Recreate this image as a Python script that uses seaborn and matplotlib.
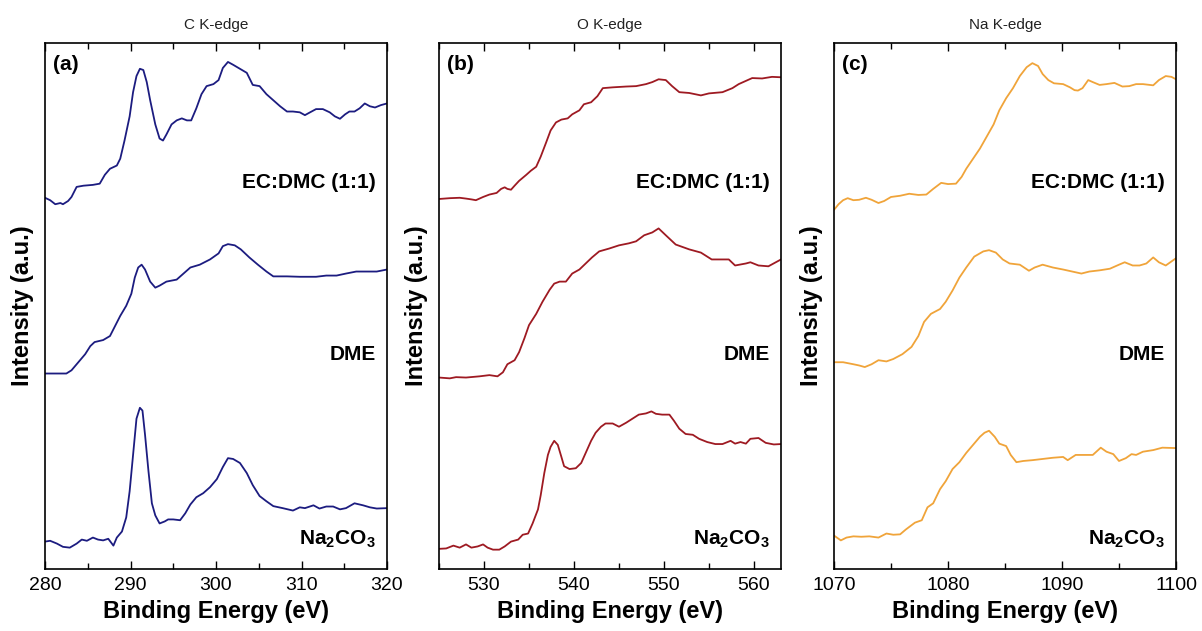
import numpy as np
import pandas as pd
import matplotlib
matplotlib.use("Agg")
import matplotlib.pyplot as plt
from matplotlib.ticker import MultipleLocator
import seaborn as sns

# ---------------- C K-edge (stacked intensities, a.u.) ----------------
c_ec_e = [280, 280.6, 281.2, 281.8, 282.1, 282.7, 283.1, 283.7, 284.5, 285.6, 286.4, 287.0, 287.6,
          288.4, 288.8, 289.3, 289.9, 290.3, 290.7, 291.1, 291.5, 291.9, 292.3, 292.9, 293.4, 293.8,
          294.2, 294.8, 295.4, 296.0, 296.6, 297.1, 297.7, 298.3, 298.9, 299.7, 300.3, 300.8, 301.4,
          302.0, 302.8, 303.6, 304.3, 305.1, 305.9, 306.7, 307.5, 308.3, 309.0, 309.8, 310.4, 311.0,
          311.7, 312.5, 313.3, 313.9, 314.5, 315.1, 315.6, 316.2, 316.8, 317.4, 318.0, 318.6, 319.3, 320]
c_ec_i = [92.1, 91.5, 90.5, 90.8, 90.5, 91.3, 92.3, 94.8, 95.1, 95.3, 95.6, 97.8, 99.3,
          100.1, 101.8, 106.3, 112.3, 118.3, 122.3, 124.1, 123.8, 120.8, 116.3, 110.3, 106.8, 106.3,
          107.8, 110.3, 111.3, 111.8, 111.3, 111.3, 114.3, 117.8, 119.8, 120.3, 121.3, 124.3, 125.8,
          125.1, 124.1, 123.1, 120.1, 119.8, 117.8, 116.3, 114.8, 113.5, 113.5, 113.3, 112.6, 113.3,
          114.1, 114.1, 113.3, 112.3, 111.7, 112.8, 113.5, 113.5, 114.3, 115.5, 114.8, 114.5, 115.1, 115.5]

c_dme_e = [280, 281, 282.5, 283.1, 284.1, 284.7, 285.3, 285.8, 286.8, 287.6, 288.2, 288.8, 289.5,
           290.1, 290.5, 290.9, 291.3, 291.7, 292.3, 292.9, 293.4, 294.2, 295.4, 296.2, 297.0, 298.1,
           299.3, 300.3, 300.8, 301.4, 302.2, 302.9, 303.9, 304.9, 305.9, 306.7, 308.3, 309.8, 311.7,
           312.9, 314.1, 315.2, 316.4, 317.6, 318.8, 320]
c_dme_i = [48.5, 48.5, 48.5, 49.3, 51.8, 53.3, 55.3, 56.3, 56.8, 57.8, 60.3, 62.8, 65.3,
           68.3, 72.3, 74.8, 75.5, 74.3, 71.3, 69.8, 70.3, 71.3, 71.8, 73.3, 74.8, 75.5,
           76.8, 78.3, 80.1, 80.6, 80.3, 79.3, 77.3, 75.5, 73.8, 72.6, 72.6, 72.5, 72.5,
           72.8, 72.8, 73.3, 73.8, 73.8, 73.8, 74.3]

c_na_e = [280, 280.6, 281.4, 282.1, 282.9, 283.7, 284.3, 284.9, 285.6, 286.2, 286.8, 287.4, 288.0,
          288.4, 289.0, 289.5, 289.9, 290.3, 290.7, 291.1, 291.4, 291.7, 292.1, 292.5, 292.9, 293.4,
          294.0, 294.4, 295.0, 295.8, 296.4, 297.0, 297.7, 298.5, 299.3, 300.1, 300.8, 301.4, 302.0,
          302.8, 303.6, 304.3, 305.1, 305.9, 306.7, 307.8, 309.0, 309.8, 310.4, 311.4, 312.1, 312.9,
          313.7, 314.5, 315.2, 316.2, 317.2, 318.0, 318.8, 320]
c_na_i = [6.8, 7.0, 6.3, 5.5, 5.3, 6.3, 7.3, 7.0, 7.8, 7.3, 7.1, 7.5, 5.8,
          7.8, 9.3, 12.8, 19.3, 28.3, 37.3, 40.0, 39.3, 33.3, 24.3, 16.3, 13.3, 11.3,
          11.8, 12.3, 12.3, 12.1, 13.8, 16.0, 17.8, 18.8, 20.3, 22.3, 25.3, 27.5, 27.3,
          26.3, 23.8, 20.8, 18.1, 16.8, 15.6, 15.1, 14.5, 15.3, 15.1, 15.8, 15.0, 15.5,
          15.5, 14.8, 15.1, 16.3, 15.8, 15.3, 15.0, 15.1]

# ---------------- O K-edge ----------------
o_ec_e = [525, 526.2, 527.3, 528.0, 528.6, 529.1, 529.9, 530.6, 531.4, 531.9, 532.3, 532.6, 533.0,
          533.4, 533.9, 534.7, 535.2, 535.8, 536.3, 536.9, 537.4, 538.0, 538.6, 539.3, 539.8, 540.6,
          541.1, 541.9, 542.6, 543.2, 544.3, 545.8, 546.9, 548.0, 548.7, 549.4, 550.2, 550.9, 551.7,
          552.8, 554.1, 555.0, 556.5, 557.6, 558.3, 559.1, 559.8, 560.9, 562.0, 563]
o_ec_i = [91.8, 92.0, 92.1, 91.9, 91.7, 91.5, 92.3, 92.9, 93.3, 94.3, 94.7, 94.3, 94.1,
          95.1, 96.3, 97.8, 98.8, 99.8, 102.3, 105.8, 108.8, 110.8, 111.5, 111.8, 112.8, 113.8,
          115.3, 115.8, 117.3, 119.3, 119.5, 119.7, 119.8, 120.3, 120.8, 121.5, 121.3, 119.8, 118.3,
          118.1, 117.5, 118.0, 118.3, 119.3, 120.3, 121.1, 121.8, 121.7, 122.1, 122.0]

o_dme_e = [525, 526.2, 526.9, 528.0, 529.5, 530.6, 531.5, 532.1, 532.6, 533.4, 533.9, 534.5, 535.0,
           535.8, 536.5, 537.3, 537.8, 538.4, 539.1, 539.8, 540.6, 541.3, 542.0, 542.8, 543.9, 545.0,
           546.1, 546.9, 547.8, 548.7, 549.4, 550.2, 551.3, 552.8, 554.1, 555.3, 556.3, 557.2, 557.9,
           559.1, 559.6, 560.5, 561.6, 563]
o_dme_i = [47.5, 47.3, 47.6, 47.5, 47.8, 48.1, 47.8, 48.8, 50.8, 51.8, 53.8, 57.3, 60.5,
           63.3, 66.3, 69.3, 70.8, 71.3, 71.3, 73.3, 74.3, 75.8, 77.3, 78.8, 79.5, 80.3,
           80.8, 81.3, 82.8, 83.5, 84.5, 82.8, 80.5, 79.3, 78.5, 76.8, 76.8, 76.8, 75.3,
           75.8, 76.1, 75.3, 75.1, 76.8]

o_na_e = [525, 525.8, 526.6, 527.3, 528.0, 528.6, 529.3, 529.9, 530.4, 531.0, 531.7, 532.3, 533.0,
          533.8, 534.3, 534.9, 535.4, 536.0, 536.3, 536.7, 537.1, 537.4, 537.8, 538.2, 538.6, 538.9,
          539.5, 540.2, 540.8, 541.3, 541.9, 542.4, 543.0, 543.5, 544.3, 545.0, 545.8, 546.5, 547.2,
          548.0, 548.6, 549.1, 549.8, 550.6, 551.1, 551.7, 552.4, 553.2, 553.9, 554.8, 555.7, 556.5,
          557.4, 557.9, 558.5, 559.1, 559.6, 560.5, 561.3, 562.2, 563]
o_na_i = [5.0, 5.1, 5.8, 5.3, 6.1, 5.3, 5.6, 6.1, 5.3, 4.8, 4.8, 5.6, 6.8,
          7.3, 8.5, 8.8, 11.3, 14.8, 18.3, 23.8, 28.3, 30.3, 31.8, 30.8, 27.8, 25.5,
          24.8, 25.0, 26.3, 28.8, 31.8, 33.8, 35.3, 36.1, 36.1, 35.3, 36.3, 37.3, 38.3,
          38.6, 39.1, 38.5, 38.3, 38.3, 36.8, 34.8, 33.5, 33.3, 32.3, 31.5, 31.0, 31.0,
          31.8, 31.1, 31.5, 31.1, 32.3, 32.5, 31.3, 30.9, 31.0]

# ---------------- Na K-edge ----------------
na_ec_e = [1070, 1070.4, 1070.8, 1071.2, 1071.7, 1072.2, 1072.8, 1073.3, 1073.9, 1074.4, 1075.0,
           1075.8, 1076.6, 1077.4, 1078.1, 1078.7, 1079.4, 1080.0, 1080.7, 1081.2, 1081.6, 1082.2,
           1082.8, 1083.4, 1084.0, 1084.5, 1085.1, 1085.7, 1086.3, 1086.9, 1087.4, 1087.9, 1088.3,
           1088.8, 1089.3, 1090.1, 1090.7, 1091.1, 1091.4, 1091.8, 1092.3, 1092.7, 1093.3, 1093.9,
           1094.6, 1095.3, 1095.9, 1096.5, 1097.1, 1098.0, 1098.5, 1099.1, 1099.6, 1100]
na_ec_i = [89.1, 90.5, 91.5, 92.0, 91.5, 91.6, 92.1, 91.6, 90.8, 91.3, 92.3,
           92.6, 93.1, 92.8, 92.9, 94.3, 95.8, 95.5, 95.6, 97.3, 99.3, 101.8,
           104.3, 107.3, 110.3, 113.8, 116.8, 119.3, 122.3, 124.5, 125.5, 124.8, 122.8,
           121.3, 120.5, 120.3, 119.5, 118.8, 118.7, 119.3, 121.3, 120.8, 120.1, 120.3,
           120.6, 119.7, 119.8, 120.3, 120.3, 120.0, 121.3, 122.3, 122.1, 121.5]

na_dme_e = [1070, 1070.8, 1071.7, 1072.2, 1072.7, 1073.3, 1073.9, 1074.6, 1075.2, 1076.0, 1076.8,
            1077.4, 1077.9, 1078.5, 1079.3, 1079.8, 1080.4, 1081.0, 1081.6, 1082.3, 1083.1, 1083.6,
            1084.2, 1084.8, 1085.4, 1086.3, 1087.1, 1087.6, 1088.3, 1089.2, 1090.1, 1090.9, 1091.7,
            1092.4, 1093.3, 1094.2, 1095.0, 1095.5, 1096.2, 1096.8, 1097.4, 1098.0, 1098.5, 1099.1, 1100]
na_dme_i = [51.3, 51.3, 50.8, 50.5, 50.1, 50.8, 51.8, 51.5, 52.1, 53.3, 55.1,
            57.8, 61.3, 63.3, 64.5, 66.3, 69.1, 72.3, 74.8, 77.5, 78.8, 79.1,
            78.5, 76.8, 75.8, 75.5, 74.0, 74.8, 75.5, 74.8, 74.3, 73.8, 73.3,
            73.8, 74.1, 74.5, 75.5, 76.1, 75.3, 75.3, 75.8, 77.3, 76.1, 75.3, 77.1]

na_na_e = [1070, 1070.4, 1070.6, 1071.1, 1071.7, 1072.4, 1073.1, 1073.9, 1074.6, 1075.2, 1075.8,
           1076.3, 1077.1, 1077.7, 1078.2, 1078.7, 1079.3, 1079.8, 1080.4, 1081.0, 1081.6, 1082.2,
           1082.8, 1083.2, 1083.6, 1084.1, 1084.5, 1085.1, 1085.5, 1086.0, 1086.6, 1087.4, 1088.3,
           1089.2, 1090.1, 1090.5, 1091.2, 1092.1, 1092.7, 1093.4, 1093.9, 1094.5, 1095.0, 1095.6,
           1096.1, 1096.5, 1097.1, 1098.0, 1098.8, 1100]
na_na_i = [8.3, 7.5, 7.1, 7.8, 8.1, 8.0, 8.1, 7.8, 8.8, 8.5, 8.6,
           9.8, 11.5, 12.1, 15.3, 16.3, 19.8, 21.8, 24.8, 26.5, 28.8, 30.8,
           32.8, 33.8, 34.3, 32.8, 31.1, 30.5, 28.3, 26.5, 26.8, 27.0, 27.3,
           27.6, 27.8, 27.0, 28.3, 28.3, 28.3, 30.1, 29.1, 28.5, 26.8, 27.5,
           28.5, 28.3, 29.1, 29.5, 30.1, 30.0]

samples = ["EC:DMC (1:1)", "DME", r"Na$_\mathbf{2}$CO$_\mathbf{3}$"]
sample_label_y = [95.8, 53.3, 7.3]
edges = ["C K-edge", "O K-edge", "Na K-edge"]
panel_tags = ["(a)", "(b)", "(c)"]
x_limits = [(280, 320), (525, 563), (1070, 1100)]
colors = ["#1c1c80", "#9e1a22", "#f0a43a"]

spectra = [
    [(c_ec_e, c_ec_i), (c_dme_e, c_dme_i), (c_na_e, c_na_i)],
    [(o_ec_e, o_ec_i), (o_dme_e, o_dme_i), (o_na_e, o_na_i)],
    [(na_ec_e, na_ec_i), (na_dme_e, na_dme_i), (na_na_e, na_na_i)],
]

sns.set_theme(style="ticks")
plt.rcParams["font.family"] = ["Liberation Sans", "DejaVu Sans"]
plt.rcParams["mathtext.fontset"] = "custom"
plt.rcParams["mathtext.rm"] = "Liberation Sans"
plt.rcParams["mathtext.bf"] = "Liberation Sans:bold"
plt.rcParams["text.color"] = "black"
plt.rcParams["axes.labelcolor"] = "black"
plt.rcParams["xtick.color"] = "black"
plt.rcParams["ytick.color"] = "black"

fig = plt.figure(figsize=(12.02, 6.31), dpi=100)
W, H = 1202, 631
lefts = [45, 439, 834]
ax_w, top, bottom = 342, 43, 569

for k in range(3):
    ax = fig.add_axes([lefts[k] / W, (H - bottom) / H, ax_w / W, (bottom - top) / H])
    frames = []
    for s, (e, i) in zip(samples, spectra[k]):
        frames.append(pd.DataFrame({"energy": e, "intensity": i, "sample": s}))
    df = pd.concat(frames, ignore_index=True)
    sns.lineplot(data=df, x="energy", y="intensity", units="sample", estimator=None,
                 sort=False, color=colors[k], linewidth=1.3, ax=ax, legend=False)

    ax.set_xlim(*x_limits[k])
    ax.set_ylim(0, 130.5)
    ax.xaxis.set_major_locator(MultipleLocator(10))
    ax.xaxis.set_minor_locator(MultipleLocator(5))
    ax.tick_params(axis="x", which="both", direction="in", top=True, bottom=True,
                   labelsize=14, pad=6, color="black", labelcolor="black", width=1)
    ax.tick_params(axis="x", which="major", length=6)
    ax.tick_params(axis="x", which="minor", length=4)
    ax.set_yticks([])
    for sp in ax.spines.values():
        sp.set_visible(True)
        sp.set_color("black")
        sp.set_linewidth(1.2)

    ax.set_xlabel("Binding Energy (eV)", fontsize=17, fontweight="bold", labelpad=4)
    ax.set_ylabel("Intensity (a.u.)", fontsize=17, fontweight="bold", labelpad=8)
    ax.set_title(edges[k], fontsize=11, pad=10, color="#222222")

    ax.text(0.024, 0.96, panel_tags[k], transform=ax.transAxes, fontsize=15,
            fontweight="bold", ha="left", va="center")
    for s, yv in zip(samples, sample_label_y):
        ax.text(0.968, yv, s, transform=ax.get_yaxis_transform(), fontsize=15,
                fontweight="bold", ha="right", va="center")

fig.savefig("out.png", dpi=100)
